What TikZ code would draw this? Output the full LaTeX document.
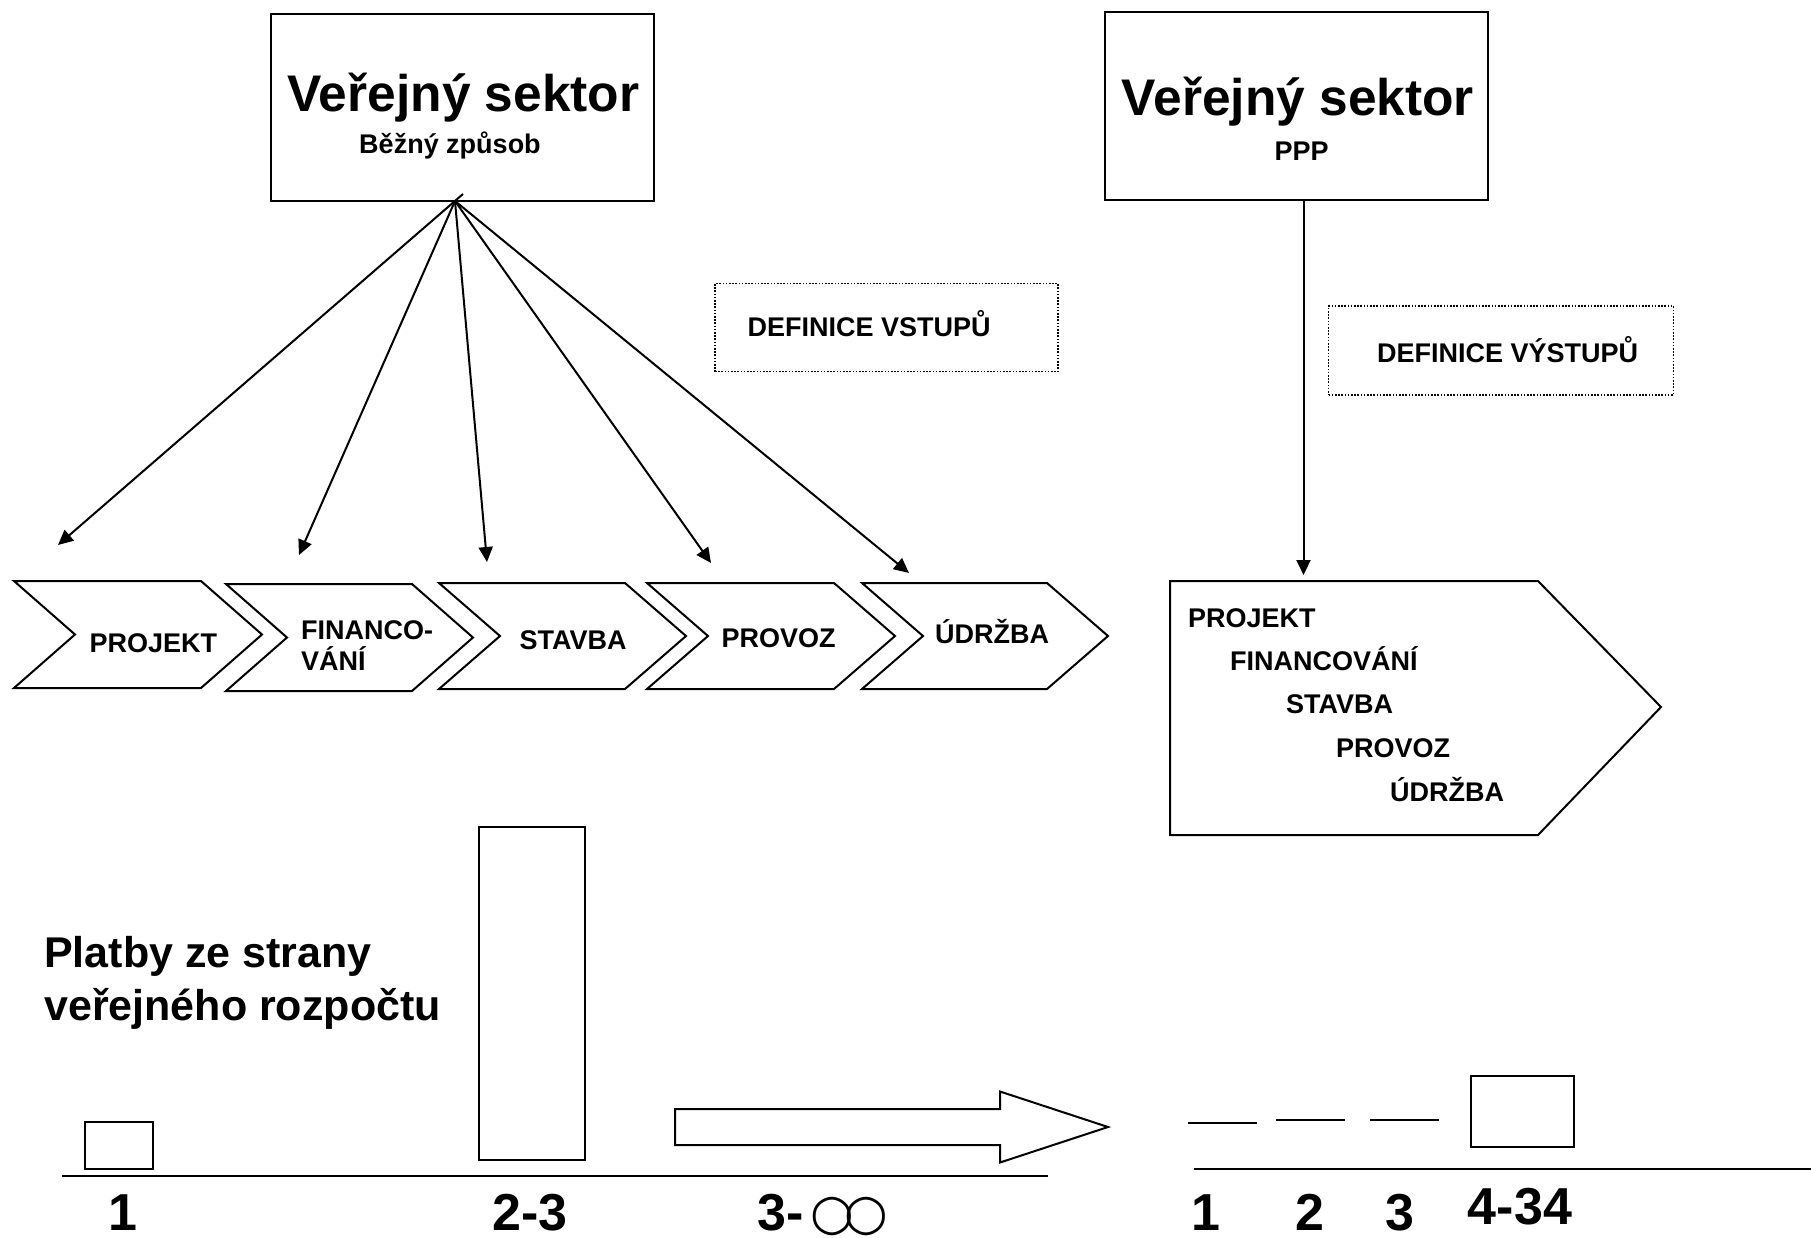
\documentclass[tikz,border=0pt]{standalone}
\usepackage{fontspec}
\setmainfont{Liberation Sans}
\newfontfamily\djv{DejaVu Sans}
\usetikzlibrary{arrows.meta}
\newcommand\mychev[4]{\draw[shp] (#1,#3) -- (#2,#3) -- ({#2+61},{(#3+#4)/2}) -- (#2,#4) -- (#1,#4) -- ({#1+61},{(#3+#4)/2}) -- cycle;}
\begin{document}
\begin{tikzpicture}[x=1pt,y=-1pt,
  shp/.style={draw,line width=2pt},
  boxnode/.style={draw,line width=2pt,inner sep=0pt},
  dotbox/.style={draw,line width=1.6pt,dash pattern=on 1.6pt off 1.6pt},
  arr/.style={line width=2pt,-{Triangle[length=15pt,width=14pt]}},
  lbl/.style={inner sep=0pt,anchor=base west,font=\bfseries\fontsize{27}{31.5}\selectfont},
  big/.style={inner sep=0pt,anchor=base west,font=\bfseries\fontsize{43}{53}\selectfont},
  title/.style={inner sep=0pt,anchor=base,font=\bfseries\fontsize{51.5}{60}\selectfont},
  sub/.style={inner sep=0pt,anchor=base,font=\bfseries\fontsize{27}{32}\selectfont},
  num/.style={inner sep=0pt,anchor=base,text depth=0pt,font=\bfseries\fontsize{52}{60}\selectfont},
]
\useasboundingbox (0,0) rectangle (1811,1237);
\fill[white] (0,0) rectangle (1811,1237);

% top boxes
\node[boxnode,minimum width=383pt,minimum height=187pt] (b1) at (462.5,107.5) {};
\node[title] (t1) at (463.5,111) {Veřejný sektor};
\node[sub] (s1) at (450,153) {Běžný způsob};
\node[boxnode,minimum width=383pt,minimum height=188pt] (b2) at (1296.5,106) {};
\node[title] (t2) at (1298,115) {Veřejný sektor};
\node[sub] (s2) at (1301.5,160) {PPP};

% dotted boxes
\node[dotbox,minimum width=343pt,minimum height=88pt,inner sep=0pt] (d1) at (886.5,327.5) {};
\node[lbl] (d1t) at (747.5,336) {DEFINICE VSTUPŮ};
\node[dotbox,minimum width=345pt,minimum height=89pt,inner sep=0pt] (d2) at (1501,350.5) {};
\node[lbl] (d2t) at (1377,362) {DEFINICE VÝSTUPŮ};

% chevrons
\mychev{14}{201}{581}{688}
\mychev{226}{412}{584}{691}
\mychev{439}{625}{583}{689}
\mychev{647}{834}{583}{689}
\mychev{862}{1047}{583}{689}
\node[lbl] (c1) at (89.5,652) {PROJEKT};
\node[lbl] (c2a) at (301,639) {FINANCO-};
\node[lbl] (c2b) at (301,670) {VÁNÍ};
\node[lbl] (c3) at (519.5,649.5) {STAVBA};
\node[lbl] (c4) at (721.5,647.5) {PROVOZ};
\node[lbl] (c5) at (935,643) {ÚDRŽBA};

% arrows from left box
\coordinate (apex) at (455,201);
\coordinate (apex1) at (463,194);
\coordinate (a1) at (58,545);
\coordinate (a2) at (299,555);
\coordinate (a3) at (487,562);
\coordinate (a4) at (711,563);
\coordinate (a5) at (909,573);
\draw[arr] (apex1) -- (a1);
\draw[arr] (apex) -- (a2);
\draw[arr] (apex) -- (a3);
\draw[arr] (apex) -- (a4);
\draw[arr] (apex) -- (a5);

% right pentagon
\draw[shp] (1170,581) -- (1538,581) -- (1661,707) -- (1538,835) -- (1170,835) -- cycle;
\coordinate (pt) at (1303.5,575);
\draw[arr] (b2.south -| pt) -- (pt);
\node[lbl] (p1) at (1188,627) {PROJEKT};
\node[lbl] (p2) at (1230,670.5) {FINANCOVÁNÍ};
\node[lbl] (p3) at (1286,713.5) {STAVBA};
\node[lbl] (p4) at (1336,757) {PROVOZ};
\node[lbl] (p5) at (1390,801) {ÚDRŽBA};

% bottom left
\node[big] (pl1) at (44,967) {Platby ze strany};
\node[big] (pl2) at (44,1020) {veřejného rozpočtu};
\draw[shp] (84.5,1122) rectangle (152.5,1169);
\draw[shp] (479,827) rectangle (584.5,1159.5);
\draw[shp] (62,1176) -- (1048,1176);
\draw[shp] (675,1109) -- (1000,1109) -- (1000,1091.5) -- (1108,1127) -- (1000,1162.5) -- (1000,1145) -- (675,1145) -- cycle;
\node[num] (n1) at (122.5,1230) {1};
\node[num] (n2) at (530,1230) {2-3};
\node[num,anchor=base west] (n3) at (757,1230) {3-};
\node[inner sep=0pt,anchor=base west,text depth=0pt,font=\djv\fontsize{50}{56}\selectfont] (inf) at (810,1229) {○\kern-9pt○};

% bottom right
\draw[shp] (1188,1123) -- (1257,1123);
\draw[shp] (1276,1120) -- (1345,1120);
\draw[shp] (1370,1120) -- (1439,1120);
\draw[shp] (1471,1075.5) rectangle (1574,1147);
\draw[shp] (1194,1169) -- (1811,1169);
\node[num] (m1) at (1206,1230) {1};
\node[num] (m2) at (1310,1230) {2};
\node[num] (m3) at (1400,1230) {3};
\node[num] (m4) at (1520,1224) {4-34};
\end{tikzpicture}
\end{document}
